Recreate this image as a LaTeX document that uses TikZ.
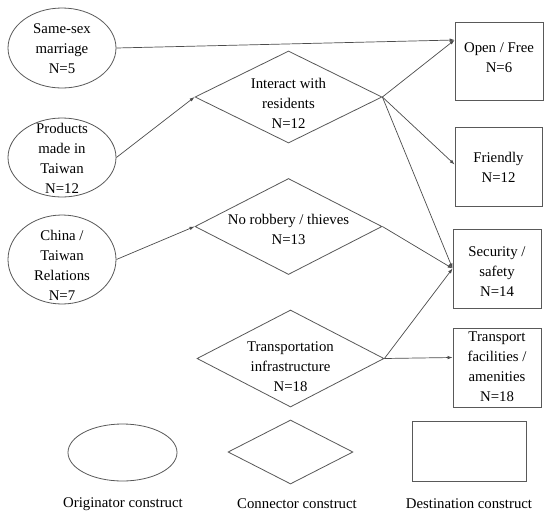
\documentclass[tikz,border=0pt]{standalone}
\usepackage{fontspec}
\setmainfont{Liberation Serif}
\usetikzlibrary{shapes.geometric,arrows.meta}
\begin{document}
\begin{tikzpicture}[x=1pt,y=-1pt,
  shp/.style={draw=black!65, line width=0.8pt, inner sep=0pt},
  oval/.style={shp, ellipse},
  dia/.style={shp, diamond},
  box/.style={shp, rectangle},
  txt/.style={align=center, inner sep=0pt, font=\fontsize{14.8}{20}\selectfont},
  conn/.style={draw=black!70, line width=0.7pt, -{Latex[length=5pt,width=3.5pt]}}
]
\useasboundingbox[fill=white] (0,0) rectangle (550,515);

% originators
\node[oval, minimum width=108pt, minimum height=80pt] (e1) at (62,48) {};
\node[txt] (t1) at (62,49) {Same-sex\\marriage\\N=5};
\node[oval, minimum width=108pt, minimum height=79pt] (e2) at (62,157.5) {};
\node[txt] (t2) at (62,158) {Products\\made in\\Taiwan\\N=12};
\node[oval, minimum width=108pt, minimum height=89pt] (e3) at (62,259.5) {};
\node[txt] (t3) at (62,265) {China /\\Taiwan\\Relations\\N=7};

% connectors
\node[dia, minimum width=187pt, minimum height=92pt] (d1) at (288.5,97) {};
\node[txt] (u1) at (288.5,103) {Interact with\\residents\\N=12};
\node[dia, minimum width=187pt, minimum height=96pt] (d2) at (288.5,226.5) {};
\node[txt] (u2) at (288.5,229.5) {No robbery / thieves\\N=13};
\node[dia, minimum width=187pt, minimum height=97pt] (d3) at (290.5,358.5) {};
\node[txt] (u3) at (290.5,367) {Transportation\\infrastructure\\N=18};

% destinations
\node[box, minimum width=88pt, minimum height=78pt] (r1) at (499,61) {};
\node[txt] (v1) at (499,58) {Open / Free\\N=6};
\node[box, minimum width=87pt, minimum height=79pt] (r2) at (498.5,166.5) {};
\node[txt] (v2) at (498.5,167) {Friendly\\N=12};
\node[box, minimum width=88pt, minimum height=79pt] (r3) at (497,268.5) {};
\node[txt] (v3) at (497,272) {Security /\\safety\\N=14};
\node[box, minimum width=88pt, minimum height=79pt] (r4) at (497,367.5) {};
\node[txt] (v4) at (497,366.5) {Transport\\facilities /\\amenities\\N=18};

% legend
\node[oval, minimum width=109pt, minimum height=57pt] (le) at (122.5,452.5) {};
\node[dia, minimum width=125pt, minimum height=64pt] (ld) at (290.5,452) {};
\node[box, minimum width=114pt, minimum height=60pt] (lr) at (469,451) {};
\node[txt] (l1) at (123,504) {Originator construct};
\node[txt] (l2) at (297,504) {Connector construct};
\node[txt] (l3) at (469,504) {Destination construct};

% arrows
\draw[conn] (e1.east) -- ([yshift=21pt]r1.west);
\draw[conn] (e2.east) -- (d1.west);
\draw[conn] (e3.east) -- (d2.west);
\draw[conn] (d1.east) -- ([yshift=21pt]r1.west);
\draw[conn] (d1.east) -- ([yshift=2pt]r2.west);
\draw[conn] (d1.east) -- (r3.west);
\draw[conn] (d2.east) -- (r3.west);
\draw[conn] (d3.east) -- (r3.west);
\draw[conn] (d3.east) -- ([yshift=10pt]r4.west);
\end{tikzpicture}
\end{document}
